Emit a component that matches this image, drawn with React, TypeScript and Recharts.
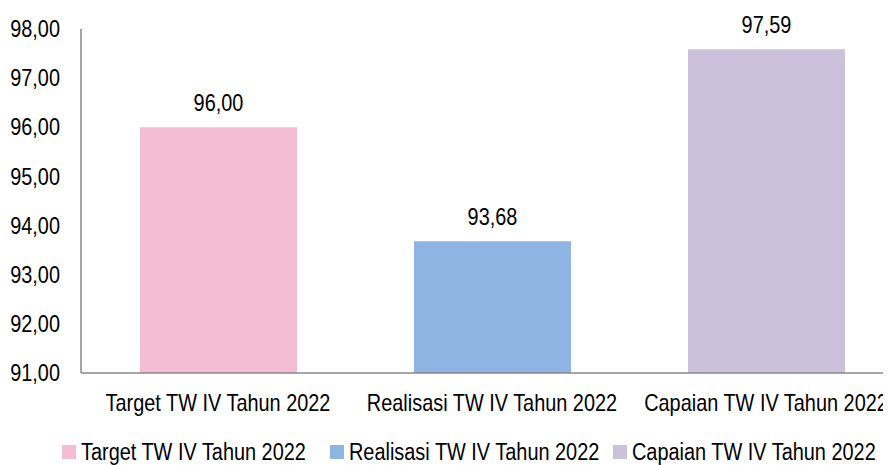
import { BarChart, Bar, XAxis, YAxis, Cell, LabelList, Legend } from "recharts";

const categories = [
  "Target TW IV Tahun 2022",
  "Realisasi TW IV Tahun 2022",
  "Capaian TW IV Tahun 2022",
];
const values = [96.0, 93.68, 97.59];
const barColors = ["#F5BDD3", "#8EB4E3", "#CCC1DA"];
const yTicks = [91, 92, 93, 94, 95, 96, 97, 98];

// no narrow font installed, so squeeze Liberation Sans horizontally
const FONT = "'Liberation Sans', Arial, sans-serif";
const SQUEEZE = 0.865;
const FS = 23;
const legendLeft = [62, 330, 613];

const fmt = (v: number) => v.toFixed(2).replace(".", ",");

const data = categories.map((name, i) => ({ name, value: values[i] }));

function NarrowText({ x, y, anchor, dy, children }: any) {
  return (
    <g transform={`translate(${x},${y})`}>
      <text
        transform={`scale(${SQUEEZE},1)`}
        textAnchor={anchor}
        dy={dy}
        fill="#000"
        fontSize={FS}
        fontFamily={FONT}
      >
        {children}
      </text>
    </g>
  );
}

const XTick = (props: any) => (
  <NarrowText x={props.x} y={props.y} anchor="middle" dy="0.71em">
    {props.payload.value}
  </NarrowText>
);

const YTick = (props: any) => (
  <NarrowText x={props.x} y={props.y} anchor="end" dy="0.355em">
    {fmt(props.payload.value)}
  </NarrowText>
);

const BarLabel = (props: any) => (
  <NarrowText x={props.x + props.width / 2} y={props.y - 16} anchor="middle" dy="0">
    {fmt(Number(props.value))}
  </NarrowText>
);

function LegendBox() {
  return (
    <div style={{ position: "relative", height: 47, fontFamily: FONT, fontSize: FS, color: "#000" }}>
      {categories.map((c, i) => (
        <div key={c} style={{ position: "absolute", left: legendLeft[i], top: 22, height: 24, whiteSpace: "nowrap" }}>
          <span
            style={{ position: "absolute", left: 0, top: 5, width: 14, height: 14, background: barColors[i] }}
          />
          <span
            style={{
              position: "absolute",
              left: 19,
              top: 0,
              lineHeight: "24px",
              transform: `scaleX(${SQUEEZE})`,
              transformOrigin: "left center",
            }}
          >
            {c}
          </span>
        </div>
      ))}
    </div>
  );
}

export default function App() {
  return (
    <div style={{ marginLeft: -8, marginTop: -8, width: 891, height: 465, overflow: "hidden", fontFamily: FONT }}>
      <BarChart
        width={903}
        height={465}
        data={data}
        margin={{ top: 29, right: 0, bottom: 0, left: 0 }}
      >
        <XAxis
          dataKey="name"
          axisLine={{ stroke: "#898989", strokeWidth: 1.5 }}
          tickLine={false}
          tickSize={0}
          tickMargin={22}
          height={45}
          interval={0}
          tick={<XTick />}
        />
        <YAxis
          domain={[91, 98]}
          ticks={yTicks}
          width={81}
          axisLine={{ stroke: "#898989", strokeWidth: 1.5 }}
          tickLine={false}
          tickSize={0}
          tickMargin={21}
          tick={<YTick />}
        />
        <Legend
          verticalAlign="bottom"
          height={47}
          wrapperStyle={{ left: 0, width: 891 }}
          content={() => <LegendBox />}
        />
        <Bar dataKey="value" barSize={157} isAnimationActive={false}>
          {data.map((_, i) => (
            <Cell key={i} fill={barColors[i]} />
          ))}
          <LabelList dataKey="value" content={<BarLabel />} />
        </Bar>
      </BarChart>
    </div>
  );
}
